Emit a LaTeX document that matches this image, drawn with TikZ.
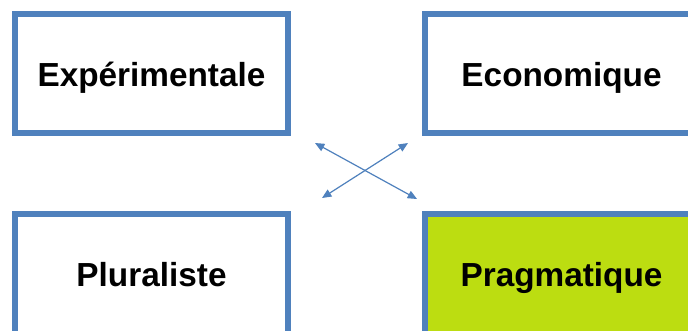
\documentclass[tikz,border=0pt]{standalone}
\usepackage{fontspec}
\setmainfont{Liberation Sans}
\usetikzlibrary{arrows.meta}
\definecolor{boxblue}{HTML}{4F81BD}
\definecolor{lime}{HTML}{BCDD11}
\newcommand{\lowtext}[2][3pt]{\raisebox{-#1}[\height][\depth]{#2}}
\begin{document}
\begin{tikzpicture}[x=0.75pt,y=-0.75pt,
  box/.style={draw=boxblue,line width=4.5pt,minimum width=204.75pt,minimum height=89.25pt,inner sep=0pt,font=\fontsize{25}{30}\selectfont\bfseries},
  tallbox/.style={box,minimum height=96pt,text height=0.73em,text depth=0.21em},
  link/.style={draw=boxblue,line width=0.9pt,{Triangle[length=7pt,width=6pt]}-{Triangle[length=7pt,width=6pt]}}]
\useasboundingbox (0,0) rectangle (688,330);
\clip (0,0) rectangle (688,330);
\fill[white] (0,0) rectangle (688,330);
\node[box] (exp) at (151.5,73.5) {\lowtext{Expérimentale}};
\node[box] (eco) at (561.5,73.5) {\lowtext{Economique}};
\node[tallbox] (plu) at (151.5,278) {\lowtext[3.75pt]{Pluraliste}};
\node[tallbox,fill=lime] (pra) at (561.5,278) {\lowtext[3.75pt]{Pragmatique}};
\coordinate (a1) at (315,143);
\coordinate (a2) at (417,199);
\coordinate (b1) at (408,143);
\coordinate (b2) at (322,198);
\draw[link] (a1) -- (a2);
\draw[link] (b1) -- (b2);
\end{tikzpicture}
\end{document}
